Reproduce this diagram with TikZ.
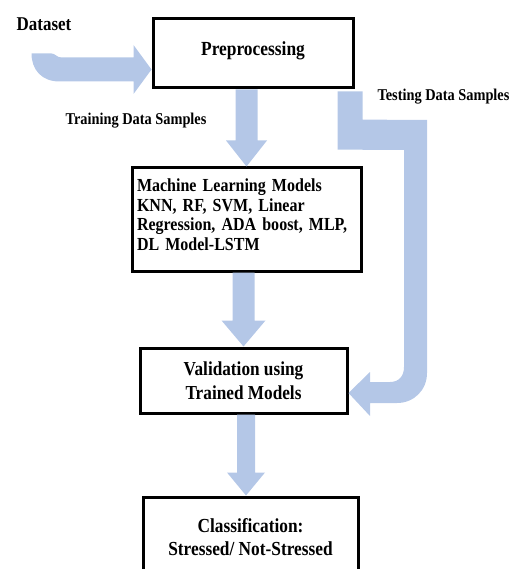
\documentclass[tikz,border=0pt]{standalone}
\usepackage{fontspec}
\setmainfont{Liberation Serif}[FakeStretch=0.87]
\usetikzlibrary{calc}

\definecolor{flowblue}{RGB}{180,199,231}

\tikzset{
	box/.style={draw, line width=3pt, inner sep=0pt},
	lbl/.style={inner sep=0pt, anchor=base},
}

% block arrow: from, to, half shaft, half head, head length
\newcommand{\flowarrow}[5]{%
	\fill[flowblue] let \p1=(#1), \p2=(#2) in
		(\x2-#3,\y1) -- (\x2+#3,\y1) -- (\x2+#3,\y2+#5) -- (\x2+#4,\y2+#5)
		-- (\x2,\y2) -- (\x2-#4,\y2+#5) -- (\x2-#3,\y2+#5) -- cycle;}

\begin{document}
\begin{tikzpicture}[x=1pt, y=-1pt]
	
	\useasboundingbox (0,0) rectangle (515,569);
	\clip (0,0) rectangle (515,569);
	
	\node[box, minimum width=200pt, minimum height=69pt, font=\fontsize{20}{24}\selectfont\bfseries] (pre) at (253,53.5) {\raisebox{10pt}{Preprocessing}};
	\node[box, minimum width=229pt, minimum height=103pt, inner xsep=5pt, text width=219pt, align=left, font=\fontsize{18.4}{19.7}\selectfont\bfseries] (ml) at (246.5,219.5) {Machine Learning Models\\KNN, RF, SVM, Linear\\Regression, ADA boost, MLP,\\DL Model-LSTM\\[-10pt]\mbox{}};
	\node[box, minimum width=207pt, minimum height=65pt, align=center, font=\fontsize{19.8}{24}\selectfont\bfseries] (val) at (243.5,380.5) {Validation using\\Trained Models};
	\node[box, minimum width=215pt, minimum height=80pt, align=center, font=\fontsize{19.9}{23}\selectfont\bfseries] (cls) at (250.5,537) {Classification:\\Stressed/ Not-Stressed};
	
	\node[lbl, font=\fontsize{19.5}{22}\selectfont\bfseries] (ds-lbl) at (44,31) {Dataset};
	\node[lbl, font=\fontsize{16.5}{19}\selectfont\bfseries] (train-lbl) at (136,125) {Training Data Samples};
	\node[lbl, font=\fontsize{16.5}{19}\selectfont\bfseries] (test-lbl) at (443.5,101) {Testing Data Samples};
	
	% dataset in
	\coordinate (ds-tip) at ($(pre.west)+(0,16)$);
	\begin{scope}[shift={(ds-tip)}]
		\fill[flowblue] (-120,-16) -- (-100,-16) .. controls (-96,-16) and (-95,-12) .. (-90,-12) -- (-18,-12) -- (-18,-24.5) -- (0,0) -- (-18,24.5) -- (-18,12) -- (-92,12) .. controls (-110,12) and (-120,0) .. cycle;
	\end{scope}
	
	% main flow
	\flowarrow{pre.south}{ml.north}{11pt}{20.5pt}{26pt}
	\flowarrow{ml.south}{val.north}{11pt}{22pt}{26pt}
	\flowarrow{val.south}{$(cls.north)+(-4.5,0)$}{9pt}{19pt}{23pt}
	
	% testing samples
	\coordinate (ts-start) at ($(pre.south east)+(-17,2)$);
	\coordinate (ts-tip) at ($(val.east)+(0,12.5)$);
	\fill[flowblue] (ts-start) -- ++(0,58.1) -- (404,150) -- (404,367) .. controls (404,376) and (399,382) .. (390,382) -- (370,382) -- (370,372) -- (ts-tip) -- (370,416) -- (370,403) -- (397,403) .. controls (414,403) and (427,390) .. (427,373) -- (427,120) -- ($(ts-start)+(25,28.1)$) -- ($(ts-start)+(25,0)$) -- cycle;
	
\end{tikzpicture}
\end{document}
